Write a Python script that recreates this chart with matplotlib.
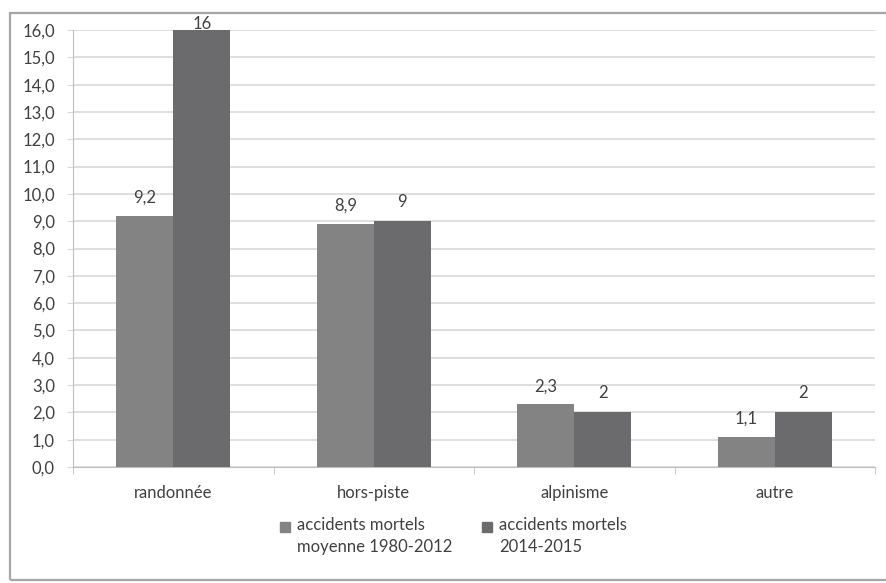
import matplotlib
matplotlib.use("Agg")
import matplotlib.pyplot as plt
import numpy as np
from matplotlib.patches import Rectangle

categories = ["randonnée", "hors-piste", "alpinisme", "autre"]
moyenne_1980_2012 = [9.2, 8.9, 2.3, 1.1]
annees_2014_2015 = [16, 9, 2, 2]
labels_moyenne = ["9,2", "8,9", "2,3", "1,1"]
labels_recent = ["16", "9", "2", "2"]
series_names = ["accidents mortels\nmoyenne 1980-2012", "accidents mortels\n2014-2015"]
yticks = np.arange(0, 17, 1)

plt.rcParams["font.family"] = ["Lato", "DejaVu Sans"]
text_color = "#404040"
grid_color = "#d9d9d9"
c1 = "#838383"
c2 = "#6b6b6d"
fs = 12

fig = plt.figure(figsize=(8.86, 5.83), dpi=100)
W, H = 886, 583

# outer chart frame
fig.add_artist(Rectangle((10 / W, 3 / H), 1.0, (575 - 8) / H, transform=fig.transFigure,
                         fill=False, edgecolor="#a6a6a6", linewidth=1.6))

ax = fig.add_axes([73 / W, 1 - 467 / H, (875 - 73) / W, (467 - 30) / H])
x = np.arange(len(categories))
bw = 0.284
b1 = ax.bar(x - bw / 2, moyenne_1980_2012, bw, color=c1, zorder=3)
b2 = ax.bar(x + bw / 2, annees_2014_2015, bw, color=c2, zorder=3)

ax.set_xlim(-0.5, len(categories) - 0.5)
ax.set_ylim(0, 16)
ax.set_yticks(yticks)
ax.set_yticklabels([f"{v:.1f}".replace(".", ",") for v in yticks], fontsize=fs, color=text_color)
ax.yaxis.grid(True, color=grid_color, linewidth=1.2, zorder=0)
ax.set_axisbelow(True)
ax.tick_params(axis="y", length=4, color=grid_color, pad=9)
ax.set_xticks(x)
ax.set_xticklabels(categories, fontsize=fs, color=text_color)
ax.set_xticks(np.arange(-0.5, len(categories)), minor=True)
ax.tick_params(axis="x", which="major", length=0, pad=13)
ax.tick_params(axis="x", which="minor", length=5, color="#bfbfbf")
for s in ["top", "right"]:
    ax.spines[s].set_visible(False)
ax.spines["left"].set_color("#bfbfbf")
ax.spines["bottom"].set_color("#bfbfbf")

for rect, lab in zip(b1, labels_moyenne):
    ax.annotate(lab, (rect.get_x() + rect.get_width() / 2, rect.get_height()),
                xytext=(0, 13), textcoords="offset points", ha="center", va="center",
                fontsize=fs, color=text_color, annotation_clip=False)
for rect, lab in zip(b2, labels_recent):
    off = 4 if rect.get_height() >= 16 else 14
    ax.annotate(lab, (rect.get_x() + rect.get_width() / 2, rect.get_height()),
                xytext=(0, off), textcoords="offset points", ha="center", va="center",
                fontsize=fs, color=text_color, annotation_clip=False)

# legend: square marker beside the first line of each two-line entry
legend_x = [285, 487]
for lx, name, col in zip(legend_x, series_names, [c1, c2]):
    fig.add_artist(Rectangle(((lx - 5) / W, 1 - 532 / H), 10 / W, 10 / H,
                             transform=fig.transFigure, color=col))
    fig.text((lx + 12) / W, 1 - 517 / H, name, fontsize=fs, color=text_color,
             ha="left", va="top", linespacing=1.45)

fig.savefig("out.png", dpi=100)
